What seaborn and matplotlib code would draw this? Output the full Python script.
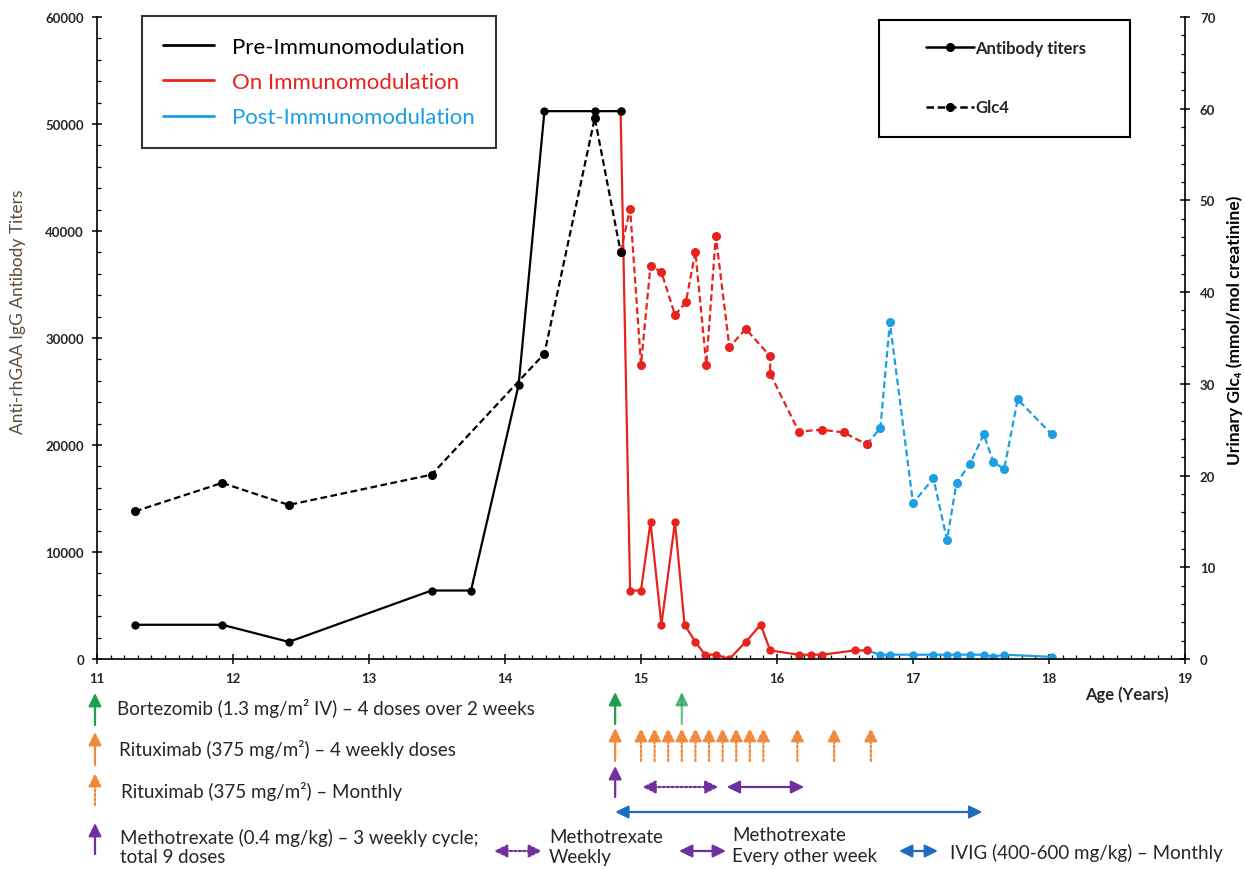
import numpy as np
import pandas as pd
import matplotlib
matplotlib.use("Agg")
import matplotlib.pyplot as plt
import seaborn as sns
from matplotlib.lines import Line2D
from matplotlib.patches import Rectangle

# ---------------- data ----------------
pre_age = [11.28, 11.92, 12.41, 13.46, 13.75, 14.10, 14.29, 14.66, 14.85]
pre_titer = [3200, 3200, 1600, 6400, 6400, 25600, 51200, 51200, 51200]
on_age = [14.85, 14.92, 15.00, 15.07, 15.15, 15.25, 15.32, 15.40, 15.47, 15.55,
          15.65, 15.77, 15.88, 15.95, 16.16, 16.25, 16.33, 16.57, 16.66]
on_titer = [51200, 6400, 6400, 12800, 3200, 12800, 3200, 1600, 400, 400,
            0, 1600, 3200, 800, 400, 400, 400, 800, 800]
post_age = [16.66, 16.76, 16.83, 17.00, 17.15, 17.25, 17.32, 17.42, 17.52, 17.59, 17.67, 18.02]
post_titer = [800, 400, 400, 400, 400, 400, 400, 400, 400, 200, 400, 200]

pre_glc_age = [11.28, 11.92, 12.41, 13.46, 14.29, 14.66, 14.85]
pre_glc = [16.1, 19.2, 16.8, 20.1, 33.3, 59.0, 44.4]
on_glc_age = [14.85, 14.92, 15.00, 15.07, 15.15, 15.25, 15.33, 15.40, 15.48, 15.55,
              15.65, 15.77, 15.95, 15.95, 16.16, 16.33, 16.49, 16.66]
on_glc = [44.4, 49.1, 32.1, 42.9, 42.2, 37.5, 38.9, 44.4, 32.1, 46.1,
          34.0, 36.0, 33.0, 31.1, 24.8, 25.0, 24.7, 23.4]
post_glc_age = [16.66, 16.76, 16.83, 17.00, 17.15, 17.25, 17.32, 17.42, 17.52, 17.59, 17.67, 17.77, 18.02]
post_glc = [23.4, 25.2, 36.7, 17.0, 19.7, 13.0, 19.2, 21.3, 24.5, 21.5, 20.7, 28.3, 24.5]

phase_labels = ["Pre-Immunomodulation", "On Immunomodulation", "Post-Immunomodulation"]
series_labels = ["Antibody titers", "Glc4"]

bortezomib_doses = [14.81, 15.30]
rituximab_weekly = [14.81]
rituximab_monthly = [15.00, 15.10, 15.20, 15.30, 15.40, 15.50, 15.60, 15.70, 15.80, 15.90,
                     16.15, 16.42, 16.69]
methotrexate_start = [14.81]
mtx_weekly_span = [15.01, 15.57]
mtx_eow_span = [15.63, 16.20]
ivig_span = [14.81, 17.51]

x_ticks = [11, 12, 13, 14, 15, 16, 17, 18, 19]
left_ticks = [0, 10000, 20000, 30000, 40000, 50000, 60000]
right_ticks = [0, 10, 20, 30, 40, 50, 60, 70]

# ---------------- style ----------------
sns.set_theme(style="white")
plt.rcParams["font.family"] = ["Lato", "DejaVu Sans"]

BLACK = "#000000"
RED = "#e8221c"
LBLUE = "#1c9fe3"
GREEN = "#1e9e50"
ORANGE = "#ef8a3c"
PURPLE = "#7030a0"
DBLUE = "#1f6bbf"

W, H = 1244, 870
fig = plt.figure(figsize=(W / 100, H / 100), dpi=100)
fig.patch.set_facecolor("white")


def fx(px):
    return px / W


def fy(py):
    return 1 - py / H


ax = fig.add_axes([fx(97), fy(660), 1088 / W, 642 / H])
ax2 = ax.twinx()
ax.set_facecolor("none")

phases_ab = [(post_age, post_titer, LBLUE), (on_age, on_titer, RED), (pre_age, pre_titer, BLACK)]
phases_glc = [(post_glc_age, post_glc, LBLUE), (on_glc_age, on_glc, RED), (pre_glc_age, pre_glc, BLACK)]

for xs, ys, c in phases_ab:
    df = pd.DataFrame({"age": xs, "val": ys})
    sns.lineplot(data=df, x="age", y="val", ax=ax, color=c, lw=1.6, marker="o",
                 markersize=6, markeredgewidth=0, estimator=None, sort=False)
for xs, ys, c in phases_glc:
    df = pd.DataFrame({"age": xs, "val": ys})
    sns.lineplot(data=df, x="age", y="val", ax=ax2, color=c, lw=1.6, marker="o",
                 markersize=6.5, markeredgewidth=0, estimator=None, sort=False,
                 linestyle=(0, (3, 1.6)))

ax.set_xlim(11, 19)
ax.set_ylim(0, 60000)
ax2.set_ylim(0, 70)
ax.set_xticks(x_ticks)
ax.set_xticklabels([str(t) for t in x_ticks])
ax.set_xticks(np.arange(11, 19.001, 0.1), minor=True)
ax.set_yticks(left_ticks)
ax.set_yticklabels([str(t) for t in left_ticks])
ax.set_yticks(np.arange(0, 60001, 2000), minor=True)
ax2.set_yticks(right_ticks)
ax2.set_yticklabels([str(t) for t in right_ticks])
ax2.set_yticks(np.arange(0, 71, 2), minor=True)

for a in (ax, ax2):
    a.spines["top"].set_visible(False)
    for s in ("left", "right", "bottom"):
        a.spines[s].set_color("black")
        a.spines[s].set_linewidth(1.2)
    a.tick_params(which="major", direction="inout", length=6.5, width=1.1, color="black")
    a.tick_params(which="minor", direction="in", length=3.2, width=0.9, color="black")
    a.set_xlabel("")
    a.set_ylabel("")
ax.spines["right"].set_visible(False)
ax2.spines["left"].set_visible(False)
ax2.spines["bottom"].set_visible(False)

ax.tick_params(axis="x", which="both", bottom=True, top=False, pad=6)
ax.tick_params(axis="y", which="both", left=True, right=False, pad=6)
ax2.tick_params(axis="y", which="both", right=True, left=False, pad=7.5)
for lab in ax.get_xticklabels() + ax.get_yticklabels() + ax2.get_yticklabels():
    lab.set_fontweight("bold")
    lab.set_fontsize(9.5)

ax.set_ylabel("Anti-rhGAA IgG Antibody Titers", fontsize=12.5, color="#5e4c3c")
ax.yaxis.set_label_coords((26 - 97) / 1088, (660 - 312) / 642)
ax2.set_ylabel("Urinary Glc\u2084 (mmol/mol creatinine)", fontsize=12.5, fontweight="bold",
               color="black")
ax2.yaxis.set_label_coords((1226 - 97) / 1088, (660 - 330) / 642)

fig.text(fx(1127), fy(695), "Age (Years)", fontsize=12, fontweight="bold",
         ha="center", va="center")

# ---------------- legends ----------------
h1 = [Line2D([], [], color=c, lw=2) for c in (BLACK, RED, LBLUE)]
leg1 = ax2.legend(h1, phase_labels, loc="upper left", bbox_to_anchor=(fx(142), fy(17)),
                  bbox_transform=fig.transFigure, fontsize=16, frameon=True, fancybox=False,
                  edgecolor="black", borderpad=0.95, handlelength=2.3, handletextpad=0.8,
                  labelspacing=0.68, borderaxespad=0)
leg1.get_frame().set_linewidth(1.5)
for t, c in zip(leg1.get_texts(), (BLACK, RED, LBLUE)):
    t.set_color(c)
ax2.add_artist(leg1)

h2 = [Line2D([], [], color=BLACK, lw=1.8, marker="o", markersize=5.5),
      Line2D([], [], color=BLACK, lw=1.8, marker="o", markersize=5.5, linestyle=(0, (3, 1.5)))]
leg2 = ax2.legend(h2, series_labels, loc="upper left", bbox_to_anchor=(fx(926), fy(41)),
                  bbox_transform=fig.transFigure, fontsize=12, frameon=False,
                  borderpad=0, handlelength=2.85, handletextpad=0.12, labelspacing=2.6,
                  borderaxespad=0, numpoints=1)
for t in leg2.get_texts():
    t.set_fontweight("bold")
fig.add_artist(Rectangle((fx(879), fy(138)), fx(1130) - fx(879), fy(21) - fy(138),
                         transform=fig.transFigure, fill=False, edgecolor="black", lw=1.5))

# ---------------- treatment annotations ----------------
DX = ("data", "figure fraction")
FF = "figure fraction"


def arrow(x0, y0, x1, y1, color, coords, ls="-", style="-|>", lw=1.6, alpha=1.0):
    ax.annotate("", xy=(x1, y1), xytext=(x0, y0), xycoords=coords, textcoords=coords,
                annotation_clip=False,
                arrowprops=dict(arrowstyle=f"{style},head_length=0.65,head_width=0.32",
                                color=color, lw=lw, linestyle=ls, shrinkA=0, shrinkB=0,
                                alpha=alpha))


# on the time axis
for i, xd in enumerate(bortezomib_doses):
    arrow(xd, fy(725), xd, fy(693), GREEN, DX, alpha=1.0 if i == 0 else 0.65)
for xd in rituximab_weekly:
    arrow(xd, fy(762), xd, fy(729), ORANGE, DX)
for xd in rituximab_monthly:
    arrow(xd, fy(762), xd, fy(729), ORANGE, DX, ls=(0, (1, 1)))
for xd in methotrexate_start:
    arrow(xd, fy(798), xd, fy(767), PURPLE, DX)
arrow(mtx_weekly_span[0], fy(788), mtx_weekly_span[1], fy(788), PURPLE, DX, ls=(0, (1, 1)), style="<|-|>")
arrow(mtx_eow_span[0], fy(788), mtx_eow_span[1], fy(788), PURPLE, DX, style="<|-|>")
arrow(ivig_span[0], fy(813), ivig_span[1], fy(813), DBLUE, DX, style="<|-|>")

# key on the bottom left
arrow(fx(95), fy(726), fx(95), fy(694), GREEN, FF)
arrow(fx(95), fy(766), fx(95), fy(733), ORANGE, FF)
arrow(fx(95), fy(806), fx(95), fy(774), ORANGE, FF, ls=(0, (1, 1)))
arrow(fx(95), fy(855), fx(95), fy(824), PURPLE, FF)
arrow(fx(494), fy(852), fx(542), fy(852), PURPLE, FF, ls=(0, (1, 1)), style="<|-|>")
arrow(fx(679), fy(852), fx(726), fy(852), PURPLE, FF, style="<|-|>")
arrow(fx(899), fy(852), fx(938), fy(852), DBLUE, FF, style="<|-|>")

TS = 13.5
fig.text(fx(117), fy(709), "Bortezomib (1.3 mg/m\u00b2 IV) \u2013 4 doses over 2 weeks", fontsize=TS, va="center")
fig.text(fx(119), fy(750), "Rituximab (375 mg/m\u00b2) \u2013 4 weekly doses", fontsize=TS, va="center")
fig.text(fx(121), fy(792), "Rituximab (375 mg/m\u00b2) \u2013 Monthly", fontsize=TS, va="center")
fig.text(fx(120), fy(838), "Methotrexate (0.4 mg/kg) \u2013 3 weekly cycle;", fontsize=TS, va="center")
fig.text(fx(120), fy(858), "total 9 doses", fontsize=TS, va="center")
fig.text(fx(549), fy(838), "Methotrexate", fontsize=TS, va="center")
fig.text(fx(549), fy(858), "Weekly", fontsize=TS, va="center")
fig.text(fx(732), fy(836), "Methotrexate", fontsize=TS, va="center")
fig.text(fx(732), fy(857), "Every other week", fontsize=TS, va="center")
fig.text(fx(950), fy(853), "IVIG (400-600 mg/kg) \u2013 Monthly", fontsize=TS, va="center")

fig.savefig("out.png", dpi=100, facecolor="white")
